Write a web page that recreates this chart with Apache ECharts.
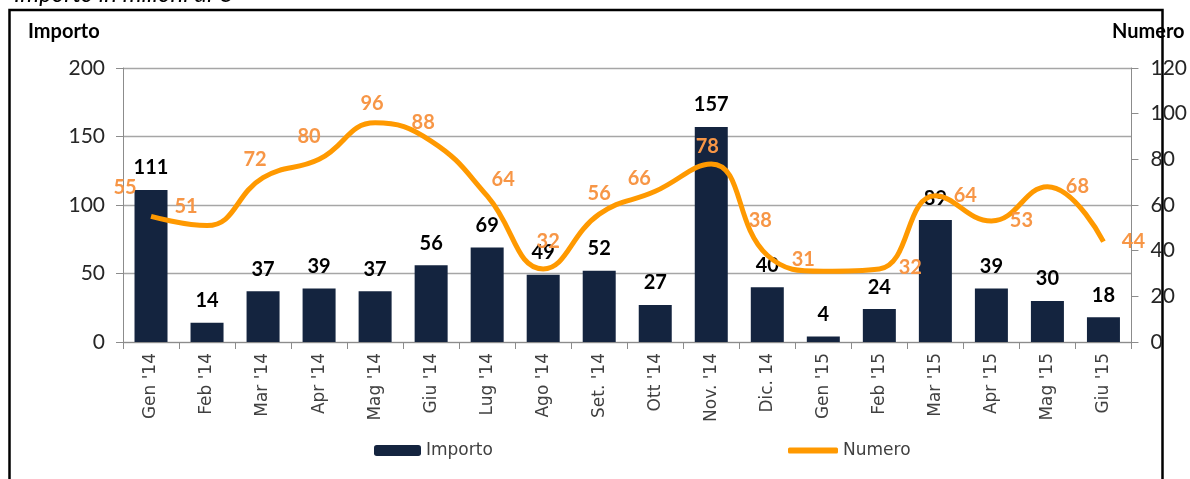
<!DOCTYPE html>
<html>
<head>
<meta charset="utf-8">
<script src="https://cdn.jsdelivr.net/npm/echarts@6/dist/echarts.min.js"></script>
<style>
  html, body { margin: 0; padding: 0; background: #fff; }
  #chart { width: 1190px; height: 479px; }
</style>
</head>
<body>
<div id="chart"></div>
<script>
const categories = ["Gen '14", "Feb '14", "Mar '14", "Apr '14", "Mag '14", "Giu '14", "Lug '14", "Ago '14", "Set. '14", "Ott '14", "Nov. '14", "Dic. 14", "Gen '15", "Feb '15", "Mar '15", "Apr '15", "Mag '15", "Giu '15"];
const importo = [111, 14, 37, 39, 37, 56, 69, 49, 52, 27, 157, 40, 4, 24, 89, 39, 30, 18];
const numero = [55, 51, 72, 80, 96, 88, 64, 32, 56, 66, 78, 38, 31, 32, 64, 53, 68, 44];
const importoTicks = { min: 0, max: 200, interval: 50 };
const numeroTicks = { min: 0, max: 120, interval: 20 };

// where Excel put each "Numero" label, relative to its point
const numeroLabelOffsets = [
  [-26, -29], [-21, -19], [-8, -18], [-10, -23], [-3, -19], [-8, -19], [16, -16],
  [5, -27], [0, -21], [-16, -13], [-4, -17], [-7, -35], [-20, -12],
  [31, -1], [30, 0], [30, 0], [30, 0], [30, 0]
];

const chart = echarts.init(document.getElementById('chart'));

const numFont = 'Lato, "Open Sans", sans-serif';
const catFont = '"DejaVu Sans", sans-serif';

chart.setOption({
  backgroundColor: '#fff',
  animation: false,
  grid: { left: 123, right: 52, top: 68, bottom: 137, containLabel: false },
  graphic: [
    {
      type: 'rect',
      shape: { x: 9.5, y: 10, width: 1153, height: 500 },
      style: { fill: 'none', stroke: '#000', lineWidth: 2.5 }
    },
    {
      type: 'text',
      x: 14, y: 6,
      style: {
        text: 'Importo in milioni di €',
        font: 'italic 24px ' + numFont,
        fill: '#000',
        verticalAlign: 'bottom'
      }
    },
    {
      type: 'text',
      x: 28, y: 32,
      style: { text: 'Importo', font: 'bold 20px ' + numFont, fill: '#000', verticalAlign: 'middle' }
    },
    {
      type: 'text',
      x: 1112, y: 32,
      style: { text: 'Numero', font: 'bold 20px ' + numFont, fill: '#000', verticalAlign: 'middle' }
    }
  ],
  legend: [
    {
      data: ['Importo'],
      left: 369, top: 437,
      itemWidth: 47, itemHeight: 11,
      textStyle: { fontFamily: catFont, fontSize: 17, color: '#404040' }
    },
    {
      data: [{ name: 'Numero', icon: 'roundRect', itemStyle: { color: '#ff9900' } }],
      left: 783, top: 437,
      itemWidth: 50, itemHeight: 6,
      textStyle: { fontFamily: catFont, fontSize: 17, color: '#404040' }
    }
  ],
  xAxis: {
    type: 'category',
    data: categories,
    boundaryGap: true,
    axisLine: { lineStyle: { color: '#8c8c8c', width: 1 } },
    axisTick: { show: true, length: 7, lineStyle: { color: '#8c8c8c' } },
    axisLabel: {
      rotate: 90,
      margin: 11,
      interval: 0,
      fontFamily: catFont,
      fontSize: 17,
      color: '#404040'
    }
  },
  yAxis: [
    {
      type: 'value',
      min: importoTicks.min, max: importoTicks.max, interval: importoTicks.interval,
      axisLine: { show: true, lineStyle: { color: '#8c8c8c' } },
      axisTick: { show: true, length: 7, lineStyle: { color: '#8c8c8c' } },
      axisLabel: { margin: 18, fontFamily: numFont, fontSize: 21, color: '#262626' },
      splitLine: { lineStyle: { color: '#a6a6a6', width: 1.3 } }
    },
    {
      type: 'value',
      min: numeroTicks.min, max: numeroTicks.max, interval: numeroTicks.interval,
      axisLine: { show: true, lineStyle: { color: '#8c8c8c' } },
      axisTick: { show: true, length: 7, lineStyle: { color: '#8c8c8c' } },
      axisLabel: { margin: 19, fontFamily: numFont, fontSize: 21, color: '#262626' },
      splitLine: { show: false }
    }
  ],
  series: [
    {
      name: 'Importo',
      type: 'bar',
      yAxisIndex: 0,
      data: importo,
      barWidth: 33,
      itemStyle: { color: '#14243f' },
      label: {
        show: true,
        position: 'top',
        distance: 12,
        fontFamily: numFont,
        fontWeight: 'bold',
        fontSize: 20,
        color: '#000'
      },
      z: 2
    },
    {
      name: 'Numero',
      type: 'line',
      yAxisIndex: 1,
      smooth: 0.45,
      symbol: 'circle',
      symbolSize: 0.01,
      showSymbol: true,
      data: numero.map((v, i) => ({
        value: v,
        label: { offset: numeroLabelOffsets[i] }
      })),
      lineStyle: { color: '#ff9900', width: 5 },
      itemStyle: { color: '#ff9900' },
      label: {
        show: true,
        position: 'inside',
        fontFamily: numFont,
        fontWeight: 'bold',
        fontSize: 20,
        color: '#f79646'
      },
      z: 3
    }
  ]
});
</script>
</body>
</html>
